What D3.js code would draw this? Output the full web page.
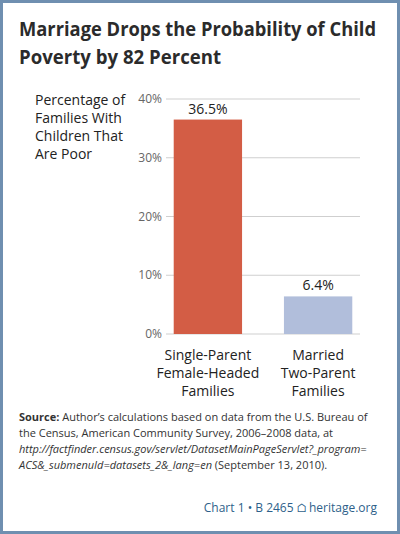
<!DOCTYPE html>
<html><head><meta charset="utf-8">
<script src="https://cdn.jsdelivr.net/npm/d3@7"></script>
<style>body{margin:0;background:#fff;font-family:"Open Sans",Lato,sans-serif}</style>
</head><body>
<svg id="chart" width="400" height="534"></svg>
<script>
// data
const categories = [["Single-Parent", "Female-Headed", "Families"], ["Married", "Two-Parent", "Families"]];
const values = [36.5, 6.4];
const labels = ["36.5%", "6.4%"];
const colors = ["#d35d45", "#b1bedb"];
const ticks = [0, 10, 20, 30, 40];

const svg = d3.select("#chart");
svg.append("rect").attr("x", 1.5).attr("y", 1.5).attr("width", 397).attr("height", 531)
  .attr("fill", "#fff").attr("stroke", "#6f8fb0").attr("stroke-width", 3);

svg.selectAll(".title").data([["Marriage Drops the Probability of Child", 357], ["Poverty by 82 Percent", 202]])
  .join("text").attr("x", 19).attr("y", (d, i) => 36 + i * 28)
  .attr("font-size", 20).attr("font-weight", "bold").attr("fill", "#2b2b2b")
  .attr("textLength", (d) => d[1]).attr("lengthAdjust", "spacingAndGlyphs").text((d) => d[0]);

svg.selectAll(".ylab").data(["Percentage of", "Families With", "Children That", "Are Poor"])
  .join("text").attr("x", 35).attr("y", (d, i) => 105 + i * 18)
  .attr("font-size", 14).attr("fill", "#222").text((d) => d);

const x = d3.scaleBand().domain([0, 1]).range([166, 360]).paddingInner(0.38).paddingOuter(0.07);
const y = d3.scaleLinear().domain([0, 40]).range([334, 99]);

const g = svg.append("g");
g.selectAll(".grid").data(ticks).join("line")
  .attr("x1", 166).attr("x2", 360).attr("y1", (d) => y(d)).attr("y2", (d) => y(d))
  .attr("stroke", "#cfcfcf").attr("stroke-width", 1);
g.selectAll(".tick").data(ticks).join("text")
  .attr("x", 162).attr("y", (d) => y(d) + 4).attr("text-anchor", "end")
  .attr("font-size", 12).attr("fill", "#666").text((d) => d + "%");

g.selectAll(".bar").data(values).join("rect")
  .attr("x", (d, i) => x(i)).attr("width", x.bandwidth())
  .attr("y", (d) => y(d)).attr("height", (d) => y(0) - y(d)).attr("fill", (d, i) => colors[i]);
g.selectAll(".val").data(values).join("text")
  .attr("x", (d, i) => x(i) + x.bandwidth() / 2).attr("y", (d) => y(d) - 6)
  .attr("text-anchor", "middle").attr("font-size", 14).attr("fill", "#222").text((d, i) => labels[i]);

categories.forEach((lines, i) => {
  g.selectAll(".cat" + i).data(lines).join("text")
    .attr("x", x(i) + x.bandwidth() / 2).attr("y", (d, j) => 360 + j * 18)
    .attr("text-anchor", "middle").attr("font-size", 14).attr("fill", "#222").text((d) => d);
});

const src = svg.append("text").attr("font-size", 11).attr("fill", "#333");
src.append("tspan").attr("x", 19).attr("y", 421).attr("font-weight", "bold").text("Source:");
src.append("tspan").text(" Author’s calculations based on data from the U.S. Bureau of");
src.append("tspan").attr("x", 19).attr("y", 437).text("the Census, American Community Survey, 2006–2008 data, at");
src.append("tspan").attr("x", 19).attr("y", 453).attr("font-style", "italic").text("http://factfinder.census.gov/servlet/DatasetMainPageServlet?_program=");
src.append("tspan").attr("x", 19).attr("y", 469).attr("font-style", "italic").text("ACS&_submenuId=datasets_2&_lang=en");
src.append("tspan").text(" (September 13, 2010).");

svg.append("text").attr("x", 377).attr("y", 512).attr("text-anchor", "end").attr("font-size", 12)
  .attr("fill", "#2e5f8a").text("Chart 1 • B 2465  ⌂ heritage.org");
</script>
</body></html>
